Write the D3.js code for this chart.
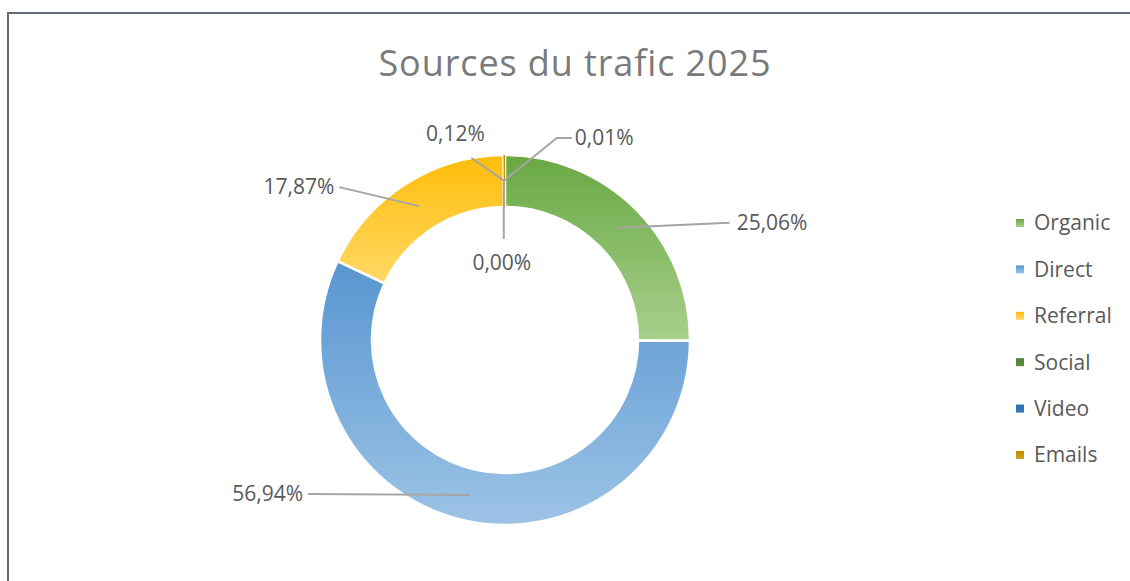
<!DOCTYPE html>
<html>
<head>
<meta charset="utf-8">
<script src="https://cdn.jsdelivr.net/npm/d3@7"></script>
<style>
  body { margin: 0; background: #fff; }
  text { font-family: "Open Sans", "Noto Sans", sans-serif; }
</style>
</head>
<body>
<div class="chart"></div>
<script>
// Data
var categories = ["Organic", "Direct", "Referral", "Social", "Video", "Emails"];
var shares = [25.06, 56.94, 17.87, 0.01, 0.00, 0.12];
var labels = ["25,06%", "56,94%", "17,87%", "0,01%", "0,00%", "0,12%"];

// colours: top / bottom of each slice gradient, legend swatch
var topColors = ["#68a843", "#5896d1", "#ffbd0a", "#4e7d30", "#2f6ead", "#bd8d00"];
var bottomColors = ["#a8d08c", "#9dc3e6", "#ffd865", "#5e8f3e", "#3a7cbc", "#d6a11a"];

var svgWidth = 1130;
var svgHeight = 581;
var cx = 505, cy = 340;
var outerR = 185, innerR = 133;

var svg = d3.select(".chart")
  .append("svg")
  .attr("width", svgWidth)
  .attr("height", svgHeight);

// outer frame
svg.append("rect")
  .attr("x", 8)
  .attr("y", 13)
  .attr("width", svgWidth + 20)
  .attr("height", svgHeight + 20)
  .attr("fill", "#fff")
  .attr("stroke", "#646b78")
  .attr("stroke-width", 2);

var defs = svg.append("defs");
categories.forEach(function(c, i) {
  var g = defs.append("linearGradient")
    .attr("id", "grad" + i)
    .attr("x1", 0).attr("y1", 0)
    .attr("x2", 0).attr("y2", 1);
  g.append("stop").attr("offset", "0%").attr("stop-color", topColors[i]);
  g.append("stop").attr("offset", "100%").attr("stop-color", bottomColors[i]);
});

// Title
svg.append("text")
  .attr("x", 575)
  .attr("y", 76)
  .attr("text-anchor", "middle")
  .attr("font-size", 36)
  .attr("letter-spacing", 0.9)
  .attr("fill", "#7a7a7a")
  .text("Sources du trafic 2025");

var data = categories.map(function(c, i) {
  return { name: c, value: shares[i], label: labels[i], idx: i };
});

var pie = d3.pie()
  .sort(null)
  .value(d => d.value);

var arc = d3.arc()
  .innerRadius(innerR)
  .outerRadius(outerR);

var chartGroup = svg.append("g")
  .attr("transform", `translate(${cx}, ${cy})`);

var arcs = pie(data);

chartGroup.selectAll("path.slice")
  .data(arcs)
  .enter()
  .append("path")
  .attr("class", "slice")
  .attr("d", arc)
  .attr("fill", d => `url(#grad${d.data.idx})`)
  .attr("stroke", "#fff")
  .attr("stroke-width", d => d.data.value > 1 ? 2.5 : 0);

// leader lines: offset of each line end from the slice centroid,
// plus where the text sits relative to that end
var leaderEnds = [[112, -5], [-162, -1], [-80, -19], [53, -43], [0, 58], [-33, -23]];
var elbow = [0, 0, 0, 15, 0, 0];
var textOffsets = [[7, 0, "start"], [-5, 0, "end"], [-5, 0, "end"], [3, 0, "start"], [-2, 24, "middle"], [-16, -24, "middle"]];

var lineGroup = chartGroup.append("g");
var labelGroup = chartGroup.append("g");

arcs.forEach(function(d, i) {
  var c = arc.centroid(d);
  var e = [c[0] + leaderEnds[i][0], c[1] + leaderEnds[i][1]];
  var pts = [c, e];
  if (elbow[i]) pts.push([e[0] + elbow[i], e[1]]);
  lineGroup.append("path")
    .attr("d", d3.line()(pts))
    .attr("fill", "none")
    .attr("stroke", "#a5a5a5")
    .attr("stroke-width", 2);
  var last = pts[pts.length - 1];
  labelGroup.append("text")
    .attr("x", last[0] + textOffsets[i][0])
    .attr("y", last[1] + textOffsets[i][1])
    .attr("dy", "0.35em")
    .attr("text-anchor", textOffsets[i][2])
    .attr("font-size", 21)
    .attr("fill", "#595959")
    .text(d.data.label);
});

// Legend
var legend = svg.append("g")
  .attr("transform", "translate(1016, 223)");

var legendItem = legend.selectAll("g")
  .data(data)
  .enter()
  .append("g")
  .attr("transform", (d, i) => `translate(0, ${i * 46.4})`);

legendItem.append("rect")
  .attr("x", 0)
  .attr("y", -4)
  .attr("width", 8)
  .attr("height", 8)
  .attr("fill", d => `url(#grad${d.idx})`);

legendItem.append("text")
  .attr("x", 18)
  .attr("dy", "0.35em")
  .attr("font-size", 21)
  .attr("fill", "#595959")
  .text(d => d.name);
</script>
</body>
</html>
